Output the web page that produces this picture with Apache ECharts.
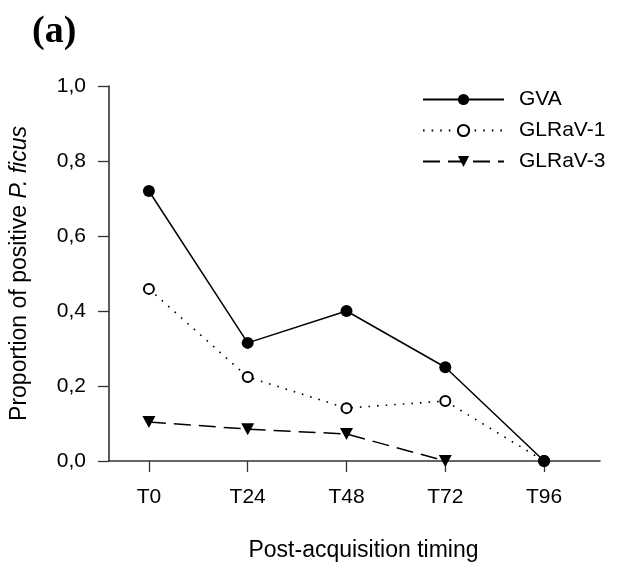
<!DOCTYPE html>
<html>
<head>
<meta charset="utf-8">
<script src="https://cdn.jsdelivr.net/npm/echarts@6/dist/echarts.min.js"></script>
<style>html,body{margin:0;padding:0;background:#fff}#c{width:621px;height:572px}</style>
</head>
<body>
<div id="c"></div>
<script>
const categories = ['T0', 'T24', 'T48', 'T72', 'T96'];
const gva = [0.72, 0.315, 0.40, 0.25, 0.0];
const glrav1 = [0.459, 0.224, 0.141, 0.16, 0.0];
const glrav3 = [0.104, 0.085, 0.072, 0.0, null];
const yTicks = [0, 0.2, 0.4, 0.6, 0.8, 1.0];

const font = '"Liberation Sans", Arial, sans-serif';
const toPts = arr => arr.map((v, i) => [i, v]);

const chart = echarts.init(document.getElementById('c'), null, {renderer: 'canvas'});
chart.setOption({
  animation: false,
  backgroundColor: '#fff',
  title: {
    text: '(a)', left: 27, top: 8,
    textStyle: {fontFamily: '"Liberation Serif", "Times New Roman", serif', fontWeight: 'bold', fontSize: 38, color: '#000'}
  },
  legend: {
    orient: 'vertical', left: 417, top: 84,
    itemWidth: 81, itemHeight: 14, itemGap: 10,
    textStyle: {fontFamily: font, fontSize: 21, color: '#000', padding: [0, 0, 0, 10]},
    data: ['GVA', 'GLRaV-1', 'GLRaV-3']
  },
  grid: {left: 108, right: 21, top: 86, bottom: 111, containLabel: false},
  xAxis: {
    type: 'value', min: -0.404, max: 4.566,
    splitLine: {show: false},
    axisLine: {show: true, onZero: false, lineStyle: {color: '#333', width: 1.6}},
    axisTick: {show: true, inside: false, length: 11, lineStyle: {color: '#333', width: 1.3}, customValues: [0, 1, 2, 3, 4]},
    axisLabel: {
      show: true, margin: 26, fontFamily: font, fontSize: 21, color: '#000',
      customValues: [0, 1, 2, 3, 4],
      formatter: v => categories[Math.round(v)]
    },
    name: 'Post-acquisition timing', nameLocation: 'middle', nameGap: 78,
    nameTextStyle: {fontFamily: font, fontSize: 23, color: '#000', padding: [0, 0, 0, 18]}
  },
  yAxis: {
    type: 'value', min: 0, max: 1, interval: 0.2,
    splitLine: {show: false},
    axisLine: {show: true, onZero: false, lineStyle: {color: '#333', width: 1.6}},
    axisTick: {show: true, inside: false, length: 11, lineStyle: {color: '#333', width: 1.3}},
    axisLabel: {
      margin: 23, fontFamily: font, fontSize: 21, color: '#000',
      formatter: v => yTicks.some(t => Math.abs(t - v) < 1e-9) ? v.toFixed(1).replace('.', ',') : ''
    },
    name: '{n|Proportion of positive }{i|P. ficus}', nameLocation: 'middle', nameGap: 78,
    nameTextStyle: {
      fontFamily: font, fontSize: 23, color: '#000',
      rich: {
        n: {fontFamily: font, fontSize: 23, color: '#000'},
        i: {fontFamily: font, fontSize: 23, color: '#000', fontStyle: 'italic'}
      }
    }
  },
  series: [
    {
      name: 'GVA', type: 'line', data: toPts(gva), z: 5,
      symbol: 'circle', symbolSize: 12,
      itemStyle: {color: '#000', borderColor: '#000', borderWidth: 0},
      lineStyle: {color: '#000', width: 1.5, type: 'solid'}
    },
    {
      name: 'GLRaV-1', type: 'line', data: toPts(glrav1), z: 4,
      symbol: 'circle', symbolSize: 10,
      itemStyle: {color: '#fff', borderColor: '#000', borderWidth: 2},
      lineStyle: {color: '#000', width: 1.6, type: [1.6, 7]}
    },
    {
      name: 'GLRaV-3', type: 'line', data: toPts(glrav3), z: 3,
      symbol: 'triangle', symbolRotate: 180, symbolSize: [13, 12], symbolOffset: [0, 0],
      itemStyle: {color: '#000', borderWidth: 0},
      lineStyle: {color: '#000', width: 1.5, type: [17, 8]}
    }
  ]
});
</script>
</body>
</html>
